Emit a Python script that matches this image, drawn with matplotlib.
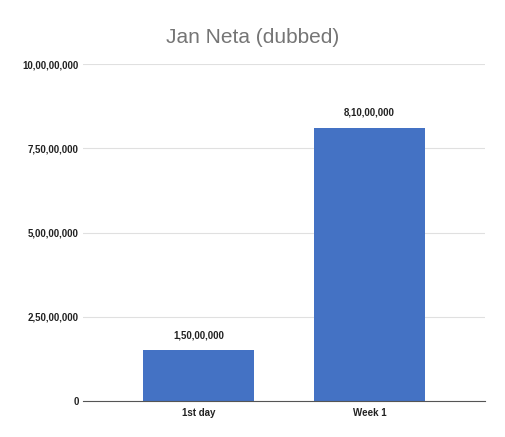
import matplotlib.pyplot as plt

categories = ["1st day", "Week 1"]
values = [15000000, 81000000]
yticks = [0, 25000000, 50000000, 75000000, 100000000]


def indian(n):
    s = str(int(n))
    if len(s) <= 3:
        return s
    last3 = s[-3:]
    rest = s[:-3]
    parts = []
    while len(rest) > 2:
        parts.insert(0, rest[-2:])
        rest = rest[:-2]
    if rest:
        parts.insert(0, rest)
    return ",".join(parts) + "," + last3


plt.rcParams["font.family"] = ["Liberation Sans", "DejaVu Sans"]

fig = plt.figure(figsize=(5.05, 4.37), dpi=100)
ax = fig.add_axes([0.1644, 0.0824, 0.796, 0.7711])

x = range(len(categories))
bars = ax.bar(x, values, width=0.65, color="#4472c4", zorder=3)
for b, v in zip(bars, values):
    ax.text(b.get_x() + b.get_width() / 2, v + 3000000, indian(v),
            ha="center", va="bottom", fontsize=7, fontweight="bold", color="#222222")

ax.set_xlim(-0.675, 1.675)
ax.set_ylim(0, 100000000)
ax.set_xticks(list(x))
ax.set_xticklabels(categories, fontsize=7, fontweight="bold", color="#222222")
ax.set_yticks(yticks)
ax.set_yticklabels([indian(t) for t in yticks], fontsize=7, fontweight="bold", color="#222222")
ax.tick_params(length=0, pad=5)
ax.tick_params(axis="y", pad=3)
ax.grid(axis="y", color="#e0e0e0", linewidth=0.8, zorder=0)
for s in ["top", "right", "left"]:
    ax.spines[s].set_visible(False)
ax.spines["bottom"].set_color("#555555")
ax.spines["bottom"].set_zorder(4)

fig.text(0.5, 0.915, "Jan Neta (dubbed)", ha="center", va="center", fontsize=15, color="#757575")

fig.savefig("out.png", dpi=100, facecolor="white")
